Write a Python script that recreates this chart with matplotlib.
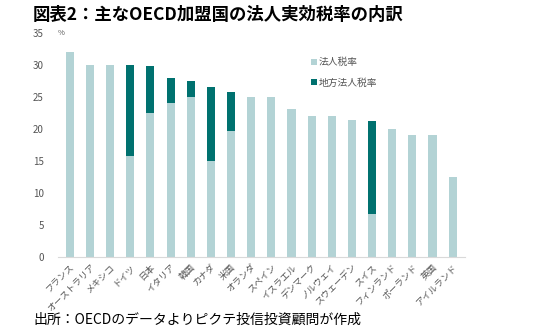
import numpy as np
import matplotlib.pyplot as plt

plt.rcParams['font.family'] = ['Noto Sans CJK JP', 'DejaVu Sans']

countries = ['フランス', 'オーストラリア', 'メキシコ', 'ドイツ', '日本', 'イタリア', '韓国', 'カナダ',
             '米国', 'オランダ', 'スペイン', 'イスラエル', 'デンマーク', 'ノルウェイ', 'スウェーデン',
             'スイス', 'フィンランド', 'ポーランド', '英国', 'アイルランド']
# 法人税率
national = [32.0, 30.0, 30.0, 15.8, 22.4, 24.0, 25.0, 15.0, 19.7, 25.0, 25.0, 23.0,
            22.0, 22.0, 21.4, 6.7, 20.0, 19.0, 19.0, 12.5]
# 地方法人税率
local = [0, 0, 0, 14.1, 7.4, 3.9, 2.5, 11.5, 6.1, 0, 0, 0,
         0, 0, 0, 14.45, 0, 0, 0, 0]

light = '#b3d3d5'
dark = '#00716f'

fig = plt.figure(figsize=(5.5, 3.33), dpi=100)
ax = fig.add_axes([0.105, 0.229, 0.74, 0.673])

x = np.arange(len(countries))
ax.bar(x, national, width=0.4, color=light, label='法人税率')
ax.bar(x, local, width=0.4, bottom=national, color=dark, label='地方法人税率')

ax.set_ylim(0, 35)
ax.set_xlim(-0.6, len(countries) - 0.4)
ax.set_yticks(np.arange(0, 36, 5))
ax.tick_params(axis='y', length=0, labelsize=7, colors='#555555', pad=10)
ax.set_xticks(x)
ax.set_xticklabels(countries, rotation=45, ha='right', rotation_mode='anchor',
                   fontsize=6.5, color='#555555')
ax.tick_params(axis='x', length=0, pad=4)
for s in ['top', 'right', 'left']:
    ax.spines[s].set_visible(False)
ax.spines['bottom'].set_color('#d9d9d9')

ax.text(0.0, 1.0, '%', transform=ax.transAxes, fontsize=5.5, color='#555555',
        ha='left', va='center')

ax.legend(loc='upper left', bbox_to_anchor=(0.6, 0.93), frameon=False, fontsize=7,
          handlelength=0.6, handleheight=0.6, handletextpad=0.2, labelspacing=1.1,
          labelcolor='#555555')

fig.text(0.06, 0.955, '図表2：主なOECD加盟国の法人実効税率の内訳', fontsize=12.5,
         fontweight='bold', ha='left', va='center')
fig.text(0.06, 0.04, '出所：OECDのデータよりピクテ投信投資顧問が作成', fontsize=10,
         ha='left', va='center')

fig.savefig('out.png', dpi=100)
